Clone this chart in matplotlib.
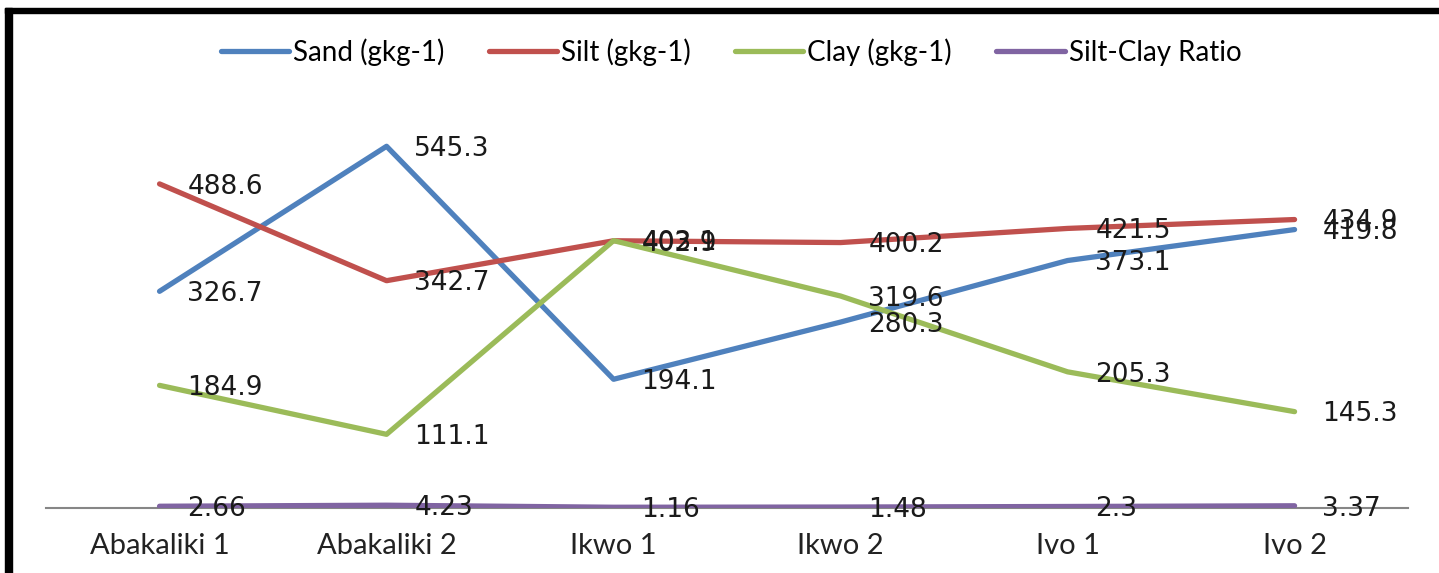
import matplotlib
matplotlib.use("Agg")
import matplotlib.pyplot as plt
from matplotlib.patches import Rectangle

sites = ["Abakaliki 1", "Abakaliki 2", "Ikwo 1", "Ikwo 2", "Ivo 1", "Ivo 2"]
sand = [326.7, 545.3, 194.1, 280.3, 373.1, 419.8]
silt = [488.6, 342.7, 402.9, 400.2, 421.5, 434.9]
clay = [184.9, 111.1, 403.1, 319.6, 205.3, 145.3]
ratio = [2.66, 4.23, 1.16, 1.48, 2.3, 3.37]

series = [
    ("Sand (gkg-1)", sand, "#4F81BD"),
    ("Silt (gkg-1)", silt, "#C0504D"),
    ("Clay (gkg-1)", clay, "#9BBB59"),
    ("Silt-Clay Ratio", ratio, "#8064A2"),
]

fig = plt.figure(figsize=(14.39, 5.73), dpi=100)
ax = fig.add_axes([0.032, 0.1134, 0.9465, 0.6946])

x = list(range(len(sites)))
for name, vals, col in series:
    ax.plot(x, vals, color=col, lw=3.8, label=name, solid_capstyle="round")
    for xi, v in zip(x, vals):
        ax.annotate(str(v), (xi, v), xytext=(20, -2), textcoords="offset points",
                    ha="left", va="center", fontsize=19, color="#1a1a1a",
                    family="DejaVu Sans")

ax.set_xlim(-0.5, len(sites) - 0.5)
ax.set_ylim(0, 600)
ax.set_xticks(x)
ax.set_xticklabels(sites, family="Lato", fontsize=21, color="#222222")
ax.tick_params(axis="x", length=0, pad=18)
ax.set_yticks([])
for s in ["top", "right", "left"]:
    ax.spines[s].set_visible(False)
ax.spines["bottom"].set_color("#868686")
ax.spines["bottom"].set_linewidth(1.5)
ax.spines["bottom"].set_zorder(0)

fig.legend(loc="center", bbox_to_anchor=(0.508, 0.909), ncol=4, frameon=False,
           prop={"family": "Lato", "size": 20}, handlelength=2.45,
           handletextpad=0.15, columnspacing=1.6)

# black frame (top and left edges visible)
W, H = 1439, 573
fig.patches.append(Rectangle((5 / W, 1 - 13 / H), 1, 5 / H, transform=fig.transFigure,
                             color="black", zorder=10))
fig.patches.append(Rectangle((5 / W, 0), 7 / W, 1 - 8 / H, transform=fig.transFigure,
                             color="black", zorder=10))

fig.savefig("out.png", dpi=100)
